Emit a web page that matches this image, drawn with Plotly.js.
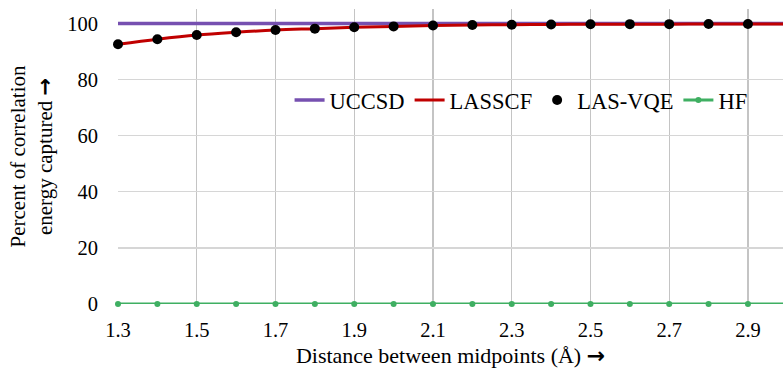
<!DOCTYPE html>
<html>
<head>
<meta charset="utf-8">
<script src="https://cdn.plot.ly/plotly-3.0.1.min.js"></script>
<style>html,body{margin:0;padding:0;background:#fff}#chart{width:783px;height:373px}</style>
</head>
<body>
<div id="chart"></div>
<script>
const distances = [1.3,1.4,1.5,1.6,1.7,1.8,1.9,2.0,2.1,2.2,2.3,2.4,2.5,2.6,2.7,2.8,2.9,3.0];
const uccsd  = [100,100,100,100,100,100,100,100,100,100,100,100,100,100,100,100,100,100];
const lasscf = [92.6,94.4,95.9,96.9,97.7,98.2,98.7,99.0,99.3,99.5,99.6,99.7,99.75,99.8,99.8,99.85,99.85,99.9];
const lasvqeX = [1.3,1.4,1.5,1.6,1.7,1.8,1.9,2.0,2.1,2.2,2.3,2.4,2.5,2.6,2.7,2.8,2.9];
const lasvqe = [92.6,94.4,95.9,96.9,97.7,98.2,98.7,99.0,99.3,99.5,99.6,99.7,99.75,99.8,99.8,99.85,99.85];
const hf = [0,0,0,0,0,0,0,0,0,0,0,0,0,0,0,0,0,0];
const xTicks = [1.3,1.5,1.7,1.9,2.1,2.3,2.5,2.7,2.9];
const yTicks = [0,20,40,60,80,100];

const FAM = "'Liberation Serif', 'Times New Roman', Times, serif";
function f(size) { return {family: FAM, size: size, color: "#000"}; }
const arrow = '<span style="font-family:DejaVu Sans;font-weight:bold">→</span>';

const traces = [
  {x: distances, y: uccsd, name: "UCCSD", mode: "lines",
   line: {color: "#7650B0", width: 3.5}, cliponaxis: false},
  {x: distances, y: lasscf, name: "LASSCF", mode: "lines",
   line: {color: "#C00000", width: 3, shape: "spline"}, cliponaxis: false},
  {x: lasvqeX, y: lasvqe, name: "LAS-VQE", mode: "markers",
   marker: {color: "#000", size: 10}, cliponaxis: false},
  {x: distances, y: hf, name: "HF", mode: "lines+markers",
   line: {color: "#3FAF62", width: 3}, marker: {color: "#3FAF62", size: 6}, cliponaxis: false}
];

const layout = {
  width: 783, height: 373,
  margin: {l: 118, r: 0, t: 9, b: 68.5},
  paper_bgcolor: "#fff", plot_bgcolor: "#fff",
  font: f(20.5),
  showlegend: true,
  legend: {orientation: "h", x: 0.258, y: 0.69, xanchor: "left", yanchor: "middle",
           font: f(22.5), bgcolor: "rgba(255,255,255,0)",
           itemwidth: 30, tracegroupgap: 0},
  xaxis: {
    range: [1.3, 2.989], tickvals: xTicks, ticktext: xTicks.map(v => v.toFixed(1)),
    showgrid: true, gridcolor: "#c4c4c4", gridwidth: 1.3, zeroline: false,
    showline: false, ticks: "outside", ticklen: 7, tickcolor: "rgba(0,0,0,0)",
    tickfont: f(20.5),
    title: {text: "Distance between midpoints (Å) " + arrow, font: f(22), standoff: 8}
  },
  yaxis: {
    range: [0, 105.2], tickvals: yTicks, ticktext: yTicks.map(String),
    showgrid: true, gridcolor: "#d6d6d6", gridwidth: 1.3, zeroline: false,
    showline: false, ticks: "outside", ticklen: 15, tickcolor: "rgba(0,0,0,0)",
    tickfont: f(20.5),
    title: {text: "Percent of correlation<br>energy captured " + arrow, font: f(21), standoff: 8}
  }
};

Plotly.newPlot("chart", traces, layout, {displayModeBar: false, staticPlot: true});
</script>
</body>
</html>
